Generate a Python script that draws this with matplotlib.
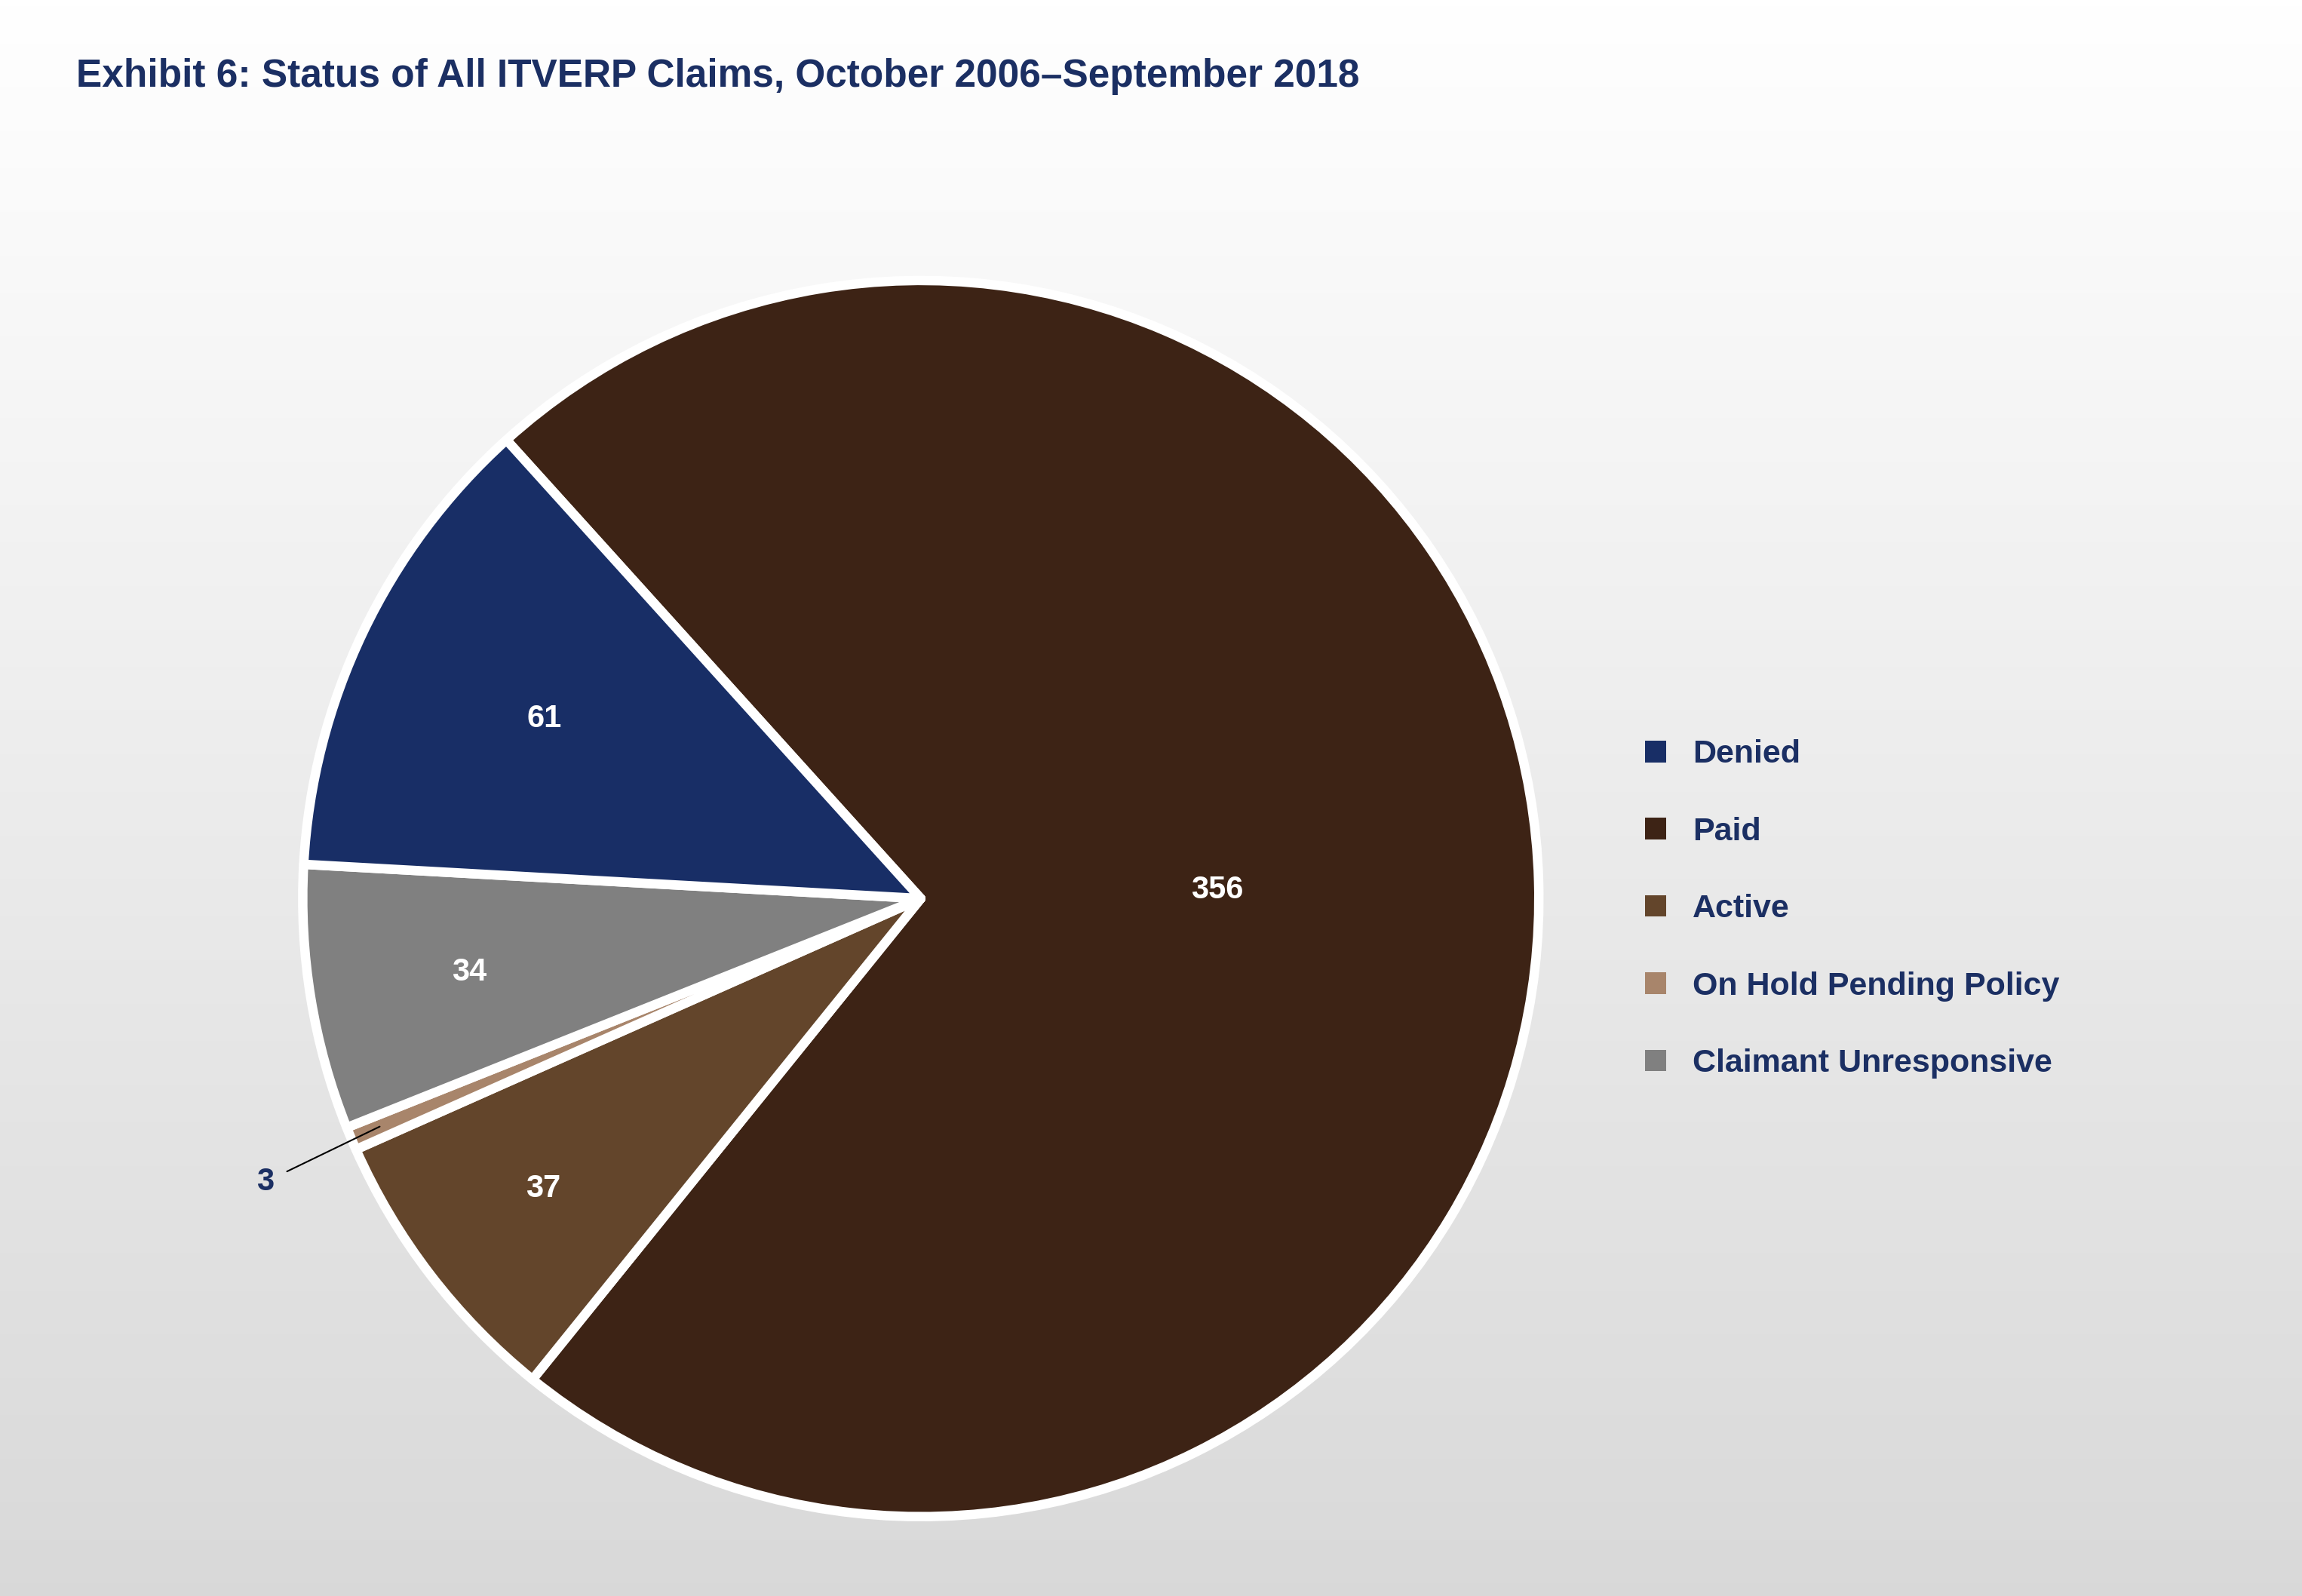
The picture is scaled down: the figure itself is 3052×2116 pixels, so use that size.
import matplotlib
matplotlib.use("Agg")
import matplotlib.pyplot as plt
from matplotlib.patches import Patch
import numpy as np

# Data (in drawing order, clockwise from the Denied/Paid boundary)
categories = ["Paid", "Active", "On Hold Pending Policy", "Claimant Unresponsive", "Denied"]
values = [356, 37, 3, 34, 61]
colors = ["#3d2315", "#63452b", "#a8856b", "#808080", "#182e66"]
legend_order = ["Denied", "Paid", "Active", "On Hold Pending Policy", "Claimant Unresponsive"]

NAVY = "#1b2f63"
plt.rcParams["font.family"] = "Liberation Sans"
plt.rcParams["font.weight"] = "bold"

fig = plt.figure(figsize=(30.52, 21.16), dpi=100)

# gradient background
bg = fig.add_axes([0, 0, 1, 1], zorder=-1)
grad = np.linspace(1.0, 0.85, 256).reshape(-1, 1)
bg.imshow(np.dstack([grad, grad, grad]), aspect="auto", extent=[0, 1, 0, 1])
bg.axis("off")

fig.text(0.033, 0.952, "Exhibit 6: Status of All ITVERP Claims, October 2006\u2013September 2018",
         fontsize=37, color=NAVY, fontweight="bold", va="center")

cx, cy = 0.40, 0.437
h = 0.79
w = h * 21.16 / 30.52
ax = fig.add_axes([cx - w / 2, cy - h / 2, w, h])
wedges, _ = ax.pie(values, colors=colors, startangle=132.1, counterclock=False,
                   wedgeprops=dict(edgecolor="white", linewidth=9, joinstyle="round"))
ax.set_xlim(-1.02, 1.02)
ax.set_ylim(-1.02, 1.02)
ax.set_aspect("equal")

label_dist = {"Paid": 0.48, "Active": 0.77, "Claimant Unresponsive": 0.74, "Denied": 0.675}
for wdg, cat, val in zip(wedges, categories, values):
    mid = np.deg2rad((wdg.theta1 + wdg.theta2) / 2)
    if cat in label_dist:
        r = label_dist[cat]
        ax.text(r * np.cos(mid), r * np.sin(mid), str(val), color="white",
                fontsize=30, fontweight="bold", ha="center", va="center")
    else:
        ax.annotate(str(val), xy=(0.95 * np.cos(mid), 0.95 * np.sin(mid)),
                    xytext=(1.13 * np.cos(mid) - 0.02, 1.13 * np.sin(mid) - 0.02),
                    color=NAVY, fontsize=30, fontweight="bold", ha="center", va="center",
                    arrowprops=dict(arrowstyle="-", color="black", lw=1.5, shrinkA=12, shrinkB=0),
                    annotation_clip=False)

color_map = dict(zip(categories, colors))
handles = [Patch(facecolor=color_map[c], edgecolor="none") for c in legend_order]
fig.legend(handles, legend_order, loc="upper left", bbox_to_anchor=(0.702, 0.555),
           frameon=False, fontsize=31, labelcolor=NAVY, handlelength=0.65,
           handleheight=0.65, labelspacing=1.45, handletextpad=0.8)

fig.savefig("out.png", dpi=100)
